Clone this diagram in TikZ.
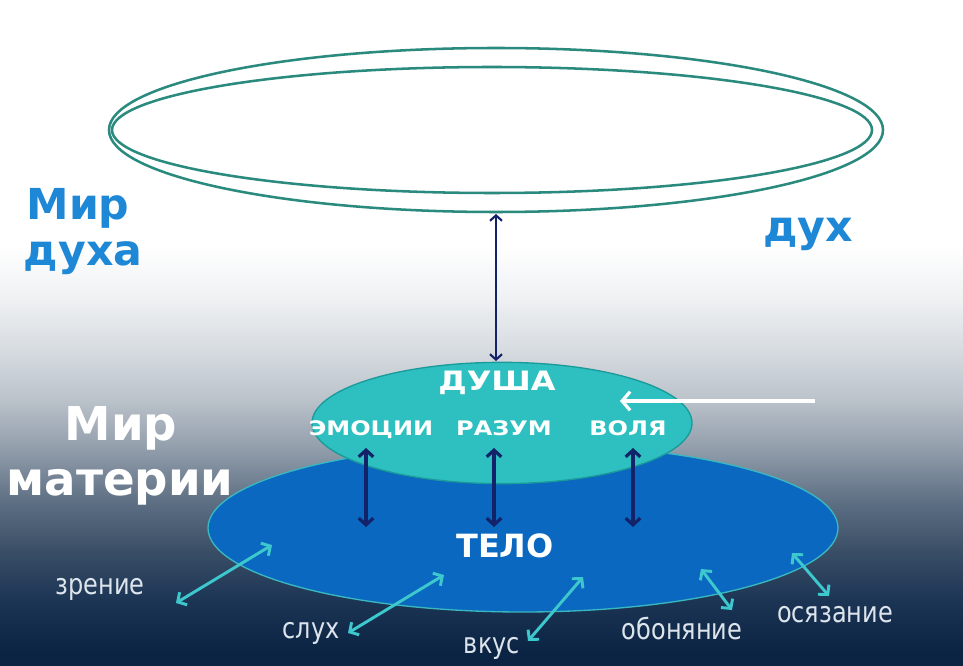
\documentclass[tikz,border=0pt]{standalone}
\usepackage{fontspec}
\usepackage{graphicx}
\setmainfont{DejaVu Sans}
\newfontfamily\widefont[FakeStretch=1.2]{DejaVu Sans}
\usetikzlibrary{shapes.geometric,arrows.meta}
\definecolor{bgA}{HTML}{0C2444}
\definecolor{bgB}{HTML}{1C3555}
\definecolor{bgC}{HTML}{3A4E66}
\definecolor{bgD}{HTML}{5E7084}
\definecolor{bgE}{HTML}{909CAA}
\definecolor{bgF}{HTML}{BAC2CA}
\definecolor{bgG}{HTML}{D6DBE0}
\definecolor{bgH}{HTML}{EEF0F2}
\definecolor{ringcol}{HTML}{2A8A7E}
\definecolor{soulfill}{HTML}{2EC0C0}
\definecolor{soulline}{HTML}{1A9A9A}
\definecolor{bodyfill}{HTML}{0B68C0}
\definecolor{bodyline}{HTML}{3AB8C0}
\definecolor{navyarrow}{HTML}{13236A}
\definecolor{cyanarrow}{HTML}{3CC8CC}
\definecolor{spiritblue}{HTML}{1E88D6}
\definecolor{labelcol}{HTML}{DDE4EC}
\tikzset{
  band/.style 2 args={top color=#1, bottom color=#2, draw=none},
  ring/.style={ellipse, draw=ringcol, line width=1.9pt, inner sep=0pt},
  soul/.style={ellipse, draw=soulline, fill=soulfill, line width=1pt, inner sep=0pt},
  body/.style={ellipse, draw=bodyline, fill=bodyfill, line width=1pt, inner sep=0pt},
  navyarr/.style={draw=navyarrow, line width=2.4pt, arrows={Straight Barb[length=5pt,width=11pt]-Straight Barb[length=5pt,width=11pt]}},
  toparr/.style={draw=navyarrow, line width=1.6pt, arrows={Straight Barb[length=4pt,width=9pt]-Straight Barb[length=4pt,width=9pt]}},
  cyanarr/.style={draw=cyanarrow, line width=2.2pt, arrows={Straight Barb[length=5pt,width=11pt]-Straight Barb[length=5pt,width=11pt]}},
  whitearr/.style={draw=white, line width=2.4pt, arrows={Straight Barb[length=6pt,width=14pt]-}},
  caps/.style={text=white, font=\widefont\bfseries, anchor=base, inner sep=0pt},
  sense/.style={text=labelcol, font=\fontsize{18pt}{20pt}\selectfont, anchor=base, inner sep=0pt},
  bigwhite/.style={text=white, font=\fontsize{35pt}{40pt}\selectfont\bfseries, anchor=base, inner sep=0pt},
  bigblue/.style={text=spiritblue, font=\fontsize{32pt}{38pt}\selectfont\bfseries, anchor=base, inner sep=0pt}
}
\begin{document}
\begin{tikzpicture}[x=0.75pt,y=-0.75pt]
\useasboundingbox (0,0) rectangle (963,666);
% background
\fill[white] (0,0) rectangle (963,247);
\shade[band={white}{bgH}] (0,246) rectangle (963,301);
\shade[band={bgH}{bgG}] (0,300) rectangle (963,351);
\shade[band={bgG}{bgF}] (0,350) rectangle (963,401);
\shade[band={bgF}{bgE}] (0,400) rectangle (963,451);
\shade[band={bgE}{bgD}] (0,450) rectangle (963,501);
\shade[band={bgD}{bgC}] (0,500) rectangle (963,551);
\shade[band={bgC}{bgB}] (0,550) rectangle (963,601);
\shade[band={bgB}{bgA}] (0,600) rectangle (963,651);
\fill[bgA] (0,650) rectangle (963,666);

% spirit rings
\node[ring, minimum width=580.5pt, minimum height=123pt] (outer) at (496,130) {};
\node[ring, minimum width=570pt, minimum height=94.5pt] (inner) at (492,130) {};

% body and soul
\node[body, minimum width=472.5pt, minimum height=126pt] (body) at (523,528) {};
\node[soul, minimum width=285pt, minimum height=91pt] (soul) at (502,423) {};

% texts
\node[bigblue] (mirduha1) at (78,220) {Мир};
\node[bigblue] (mirduha2) at (83,266) {духа};
\node[bigblue] (duh) at (808,242) {дух};
\node[bigwhite] (mirmat1) at (121,440) {Мир};
\node[bigwhite] (mirmat2) at (120,495) {материи};

\node[caps, font=\widefont\bfseries\fontsize{20pt}{24pt}\selectfont] (dusha) at (497,390) {ДУША};
\node[caps, font=\widefont\bfseries\fontsize{15pt}{18pt}\selectfont] (emo) at (371,435) {ЭМОЦИИ};
\node[caps, font=\widefont\bfseries\fontsize{15pt}{18pt}\selectfont] (razum) at (504,435) {РАЗУМ};
\node[caps, font=\widefont\bfseries\fontsize{15pt}{18pt}\selectfont] (volya) at (628,435) {ВОЛЯ};
\node[caps, font=\bfseries\fontsize{24pt}{28pt}\selectfont] (telo) at (505,557) {ТЕЛО};

\node[sense] (zrenie) at (100,594) {\scalebox{1}[1.2]{зрение}};
\node[sense] (sluh) at (311,638) {\scalebox{1}[1.2]{слух}};
\node[sense] (vkus) at (492,653) {\scalebox{1}[1.2]{вкус}};
\node[sense] (obon) at (682,639) {\scalebox{1}[1.2]{обоняние}};
\node[sense] (osyaz) at (835,622) {\scalebox{1}[1.2]{осязание}};

% arrow end points
\coordinate (t1) at (496,214);
\coordinate (t2) at (496,361);
\coordinate (a1) at (366,448);
\coordinate (a2) at (366,527);
\coordinate (b1) at (494,448);
\coordinate (b2) at (494,527);
\coordinate (c1) at (633,448);
\coordinate (c2) at (633,527);
\coordinate (w1) at (815,401);
\coordinate (w2) at (620,401);
\coordinate (z1) at (272,545);
\coordinate (z2) at (176,603);
\coordinate (s1) at (444,575);
\coordinate (s2) at (348,633);
\coordinate (v1) at (583,577);
\coordinate (v2) at (528,641);
\coordinate (o1) at (701,569);
\coordinate (o2) at (732,610);
\coordinate (q1) at (792,553);
\coordinate (q2) at (829,596);

\draw[toparr] (t1) -- (t2);
\draw[navyarr] (a1) -- (a2);
\draw[navyarr] (b1) -- (b2);
\draw[navyarr] (c1) -- (c2);
\draw[whitearr] (w2) -- (w1);
\draw[cyanarr] (z1) -- (z2);
\draw[cyanarr] (s1) -- (s2);
\draw[cyanarr] (v1) -- (v2);
\draw[cyanarr] (o1) -- (o2);
\draw[cyanarr] (q1) -- (q2);
\end{tikzpicture}
\end{document}
